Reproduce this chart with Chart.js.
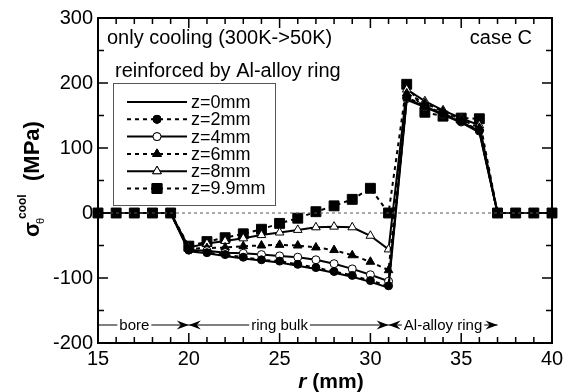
<!DOCTYPE html>
<html>
<head>
  <meta charset="utf-8">
  <title>Hoop stress, case C</title>
  <script src="https://cdn.jsdelivr.net/npm/chart.js@4.4.1/dist/chart.umd.min.js"></script>
  <style>
    body { margin: 0; background: #fff; }
    .chart-container { width: 570px; height: 392px; }
  </style>
</head>
<body>
  <div class="chart-container">
    <canvas id="stressChart" width="570" height="392"></canvas>
  </div>

  <script>
    // radius positions (mm)
    const r = [15, 16, 17, 18, 19, 20, 21, 22, 23, 24, 25, 26, 27, 28, 29, 30, 31, 32, 33, 34, 35, 36, 37, 38, 39, 40];

    // hoop stress after cooling (MPa), one list per height z
    const z0mm  = [0, 0, 0, 0, 0, -59, -62, -66, -70, -73, -76, -81, -86, -92, -98, -106, -115, 174, 163, 151, 139, 124, 0, 0, 0, 0];
    const z2mm  = [0, 0, 0, 0, 0, -57, -61, -64, -68, -72, -74, -79, -84, -90, -96, -104, -112, 178, 165, 153, 141, 127, 0, 0, 0, 0];
    const z4mm  = [0, 0, 0, 0, 0, -57, -58, -61, -62, -64, -66, -68, -72, -78, -86, -95, -105, 176, 164, 152, 140, 126, 0, 0, 0, 0];
    const z6mm  = [0, 0, 0, 0, 0, -55, -54, -53, -51, -50, -49, -50, -53, -57, -65, -75, -88, 184, 169, 156, 144, 131, 0, 0, 0, 0];
    const z8mm  = [0, 0, 0, 0, 0, -53, -47, -43, -39, -34, -30, -26, -22, -21, -22, -35, -56, 190, 172, 158, 146, 135, 0, 0, 0, 0];
    const z99mm = [0, 0, 0, 0, 0, -51, -44, -38, -32, -25, -16, -8, 2, 11, 21, 38, 0, 198, 155, 149, 146, 145, 0, 0, 0, 0];

    const seriesLabels = ['z=0mm', 'z=2mm', 'z=4mm', 'z=6mm', 'z=8mm', 'z=9.9mm'];

    const yTicks = [-200, -100, 0, 100, 200, 300];
    const xTicks = [15, 20, 25, 30, 35, 40];

    const FONT = '"Liberation Sans", Arial, sans-serif';

    function pts(vals) {
      return r.map((x, i) => ({ x: x, y: vals[i] }));
    }

    function series(label, vals, dashed, style, filled, radius) {
      return {
        label: label,
        data: pts(vals),
        borderColor: '#000',
        borderWidth: 2,
        borderDash: dashed ? [4, 4] : [],
        pointStyle: style || 'circle',
        pointRadius: style ? radius : 0,
        pointBackgroundColor: filled ? '#000' : '#fff',
        pointBorderColor: '#000',
        pointBorderWidth: 1,
        tension: 0,
        clip: false
      };
    }

    const datasets = [
      {
        label: 'zero',
        data: [{ x: 15, y: 0 }, { x: 40, y: 0 }],
        borderColor: '#555',
        borderWidth: 1,
        borderDash: [3, 3],
        pointRadius: 0
      },
      series(seriesLabels[0], z0mm, false, null, true, 0),
      series(seriesLabels[1], z2mm, true, 'circle', true, 4),
      series(seriesLabels[2], z4mm, false, 'circle', false, 4),
      series(seriesLabels[3], z6mm, true, 'triangle', true, 5),
      series(seriesLabels[4], z8mm, false, 'triangle', false, 5),
      series(seriesLabels[5], z99mm, true, 'rect', true, 7)
    ];

    // frame, inward ticks, texts, legend, region arrows
    const decorations = {
      id: 'decorations',
      afterDatasetsDraw(chart) {
        const ctx = chart.ctx;
        const a = chart.chartArea;
        const xs = chart.scales.x;
        const ys = chart.scales.y;
        ctx.save();
        ctx.strokeStyle = '#000';
        ctx.fillStyle = '#000';

        // frame
        ctx.lineWidth = 2;
        ctx.strokeRect(a.left, a.top, a.right - a.left, a.bottom - a.top);

        // ticks pointing inward
        ctx.lineWidth = 1.5;
        ctx.beginPath();
        for (let v = 15; v <= 40; v++) {
          const px = xs.getPixelForValue(v);
          const len = v % 5 === 0 ? 10 : 6;
          ctx.moveTo(px, a.bottom); ctx.lineTo(px, a.bottom - len);
          ctx.moveTo(px, a.top); ctx.lineTo(px, a.top + len);
        }
        for (let v = -200; v <= 300; v += 50) {
          const py = ys.getPixelForValue(v);
          const len = v % 100 === 0 ? 10 : 6;
          ctx.moveTo(a.left, py); ctx.lineTo(a.left + len, py);
          ctx.moveTo(a.right, py); ctx.lineTo(a.right - len, py);
        }
        ctx.stroke();

        // text inside the plot
        ctx.font = '20px ' + FONT;
        ctx.textBaseline = 'alphabetic';
        ctx.textAlign = 'left';
        ctx.fillText('only cooling (300K->50K)', 107, 44);
        ctx.fillText('reinforced by Al-alloy ring', 115, 77);
        ctx.textAlign = 'right';
        ctx.fillText('case C', 532, 44);

        // legend
        ctx.lineWidth = 1;
        ctx.strokeStyle = '#555';
        ctx.strokeRect(113.5, 83.5, 162, 122);
        ctx.font = '18px ' + FONT;
        ctx.textAlign = 'left';
        ctx.textBaseline = 'middle';
        chart.data.datasets.slice(1).forEach((ds, i) => {
          const y = 102 + i * 17.3;
          ctx.strokeStyle = '#000';
          ctx.lineWidth = ds.borderWidth;
          ctx.setLineDash(ds.borderDash);
          ctx.beginPath();
          ctx.moveTo(127, y); ctx.lineTo(187, y);
          ctx.stroke();
          ctx.setLineDash([]);
          if (ds.pointRadius > 0) {
            ctx.fillStyle = ds.pointBackgroundColor;
            ctx.lineWidth = ds.pointBorderWidth;
            Chart.helpers.drawPoint(ctx, { pointStyle: ds.pointStyle, radius: ds.pointRadius, rotation: 0, borderWidth: 1 }, 157, y);
            ctx.fill();
            ctx.stroke();
          }
          ctx.fillStyle = '#000';
          ctx.fillText(ds.label, 191, y + 1);
        });

        // region markers along the bottom
        const yb = 325;
        ctx.font = '15px ' + FONT;
        ctx.lineWidth = 1;
        ctx.strokeStyle = '#000';
        ctx.fillStyle = '#000';
        function head(x, dir) {
          ctx.beginPath();
          ctx.moveTo(x, yb);
          ctx.lineTo(x - dir * 12, yb - 4.5);
          ctx.lineTo(x - dir * 8, yb);
          ctx.lineTo(x - dir * 12, yb + 4.5);
          ctx.closePath();
          ctx.fill();
        }
        function span(r1, r2, label, mid, leftHead, rightHead) {
          const x1 = xs.getPixelForValue(r1) + (leftHead ? 0 : 1);
          const x2 = xs.getPixelForValue(r2);
          const xm = xs.getPixelForValue(mid);
          const w = ctx.measureText(label).width;
          ctx.textAlign = 'center';
          ctx.fillText(label, xm, yb + 1);
          ctx.beginPath();
          if (xm - w / 2 - 2 > x1 + 8) { ctx.moveTo(x1, yb); ctx.lineTo(xm - w / 2 - 2, yb); }
          if (xm + w / 2 + 2 < x2 - 8) { ctx.moveTo(xm + w / 2 + 2, yb); ctx.lineTo(x2, yb); }
          ctx.stroke();
          if (leftHead) head(x1, -1);
          if (rightHead) head(x2, 1);
        }
        span(15, 20, 'bore', 17.0, false, true);
        span(20, 31, 'ring bulk', 25.0, true, true);
        span(31, 37, 'Al-alloy ring', 34.0, true, true);

        // axis titles
        ctx.textBaseline = 'alphabetic';
        ctx.textAlign = 'left';
        ctx.font = 'italic bold 21px ' + FONT;
        const wr = ctx.measureText('r').width;
        ctx.font = 'bold 21px ' + FONT;
        const wm = ctx.measureText(' (mm)').width;
        const x0 = 331 - (wr + wm) / 2;
        ctx.font = 'italic bold 21px ' + FONT;
        ctx.fillText('r', x0, 388);
        ctx.font = 'bold 21px ' + FONT;
        ctx.fillText(' (mm)', x0 + wr, 388);

        ctx.translate(39, 237);
        ctx.rotate(-Math.PI / 2);
        ctx.font = 'bold 22px ' + FONT;
        ctx.fillText('\u03C3', 0, 0);
        ctx.font = '11px ' + FONT;
        ctx.fillText('\u03B8', 13, 5);
        ctx.font = 'bold 12px ' + FONT;
        ctx.fillText('cool', 18, -13);
        ctx.font = 'bold 22px ' + FONT;
        ctx.fillText('(MPa)', 56, 0);

        ctx.restore();
      }
    };

    new Chart(document.getElementById('stressChart'), {
      type: 'line',
      data: { datasets: datasets },
      options: {
        responsive: false,
        animation: false,
        layout: { padding: { left: 0, top: 18, right: 18, bottom: 0 } },
        plugins: {
          legend: { display: false },
          tooltip: { enabled: false }
        },
        scales: {
          x: {
            type: 'linear',
            min: 15,
            max: 40,
            afterBuildTicks: (s) => { s.ticks = xTicks.map(v => ({ value: v })); },
            afterFit: (s) => { s.height = 49; },
            grid: { display: false, drawTicks: false },
            border: { display: false },
            ticks: { color: '#000', font: { family: FONT, size: 20 }, padding: 4, maxRotation: 0 }
          },
          y: {
            type: 'linear',
            min: -200,
            max: 300,
            afterBuildTicks: (s) => { s.ticks = yTicks.map(v => ({ value: v })); },
            afterFit: (s) => { s.width = 98; },
            grid: { display: false, drawTicks: false },
            border: { display: false },
            ticks: { color: '#000', font: { family: FONT, size: 20 }, padding: 5 }
          }
        }
      },
      plugins: [decorations]
    });
  </script>
</body>
</html>
